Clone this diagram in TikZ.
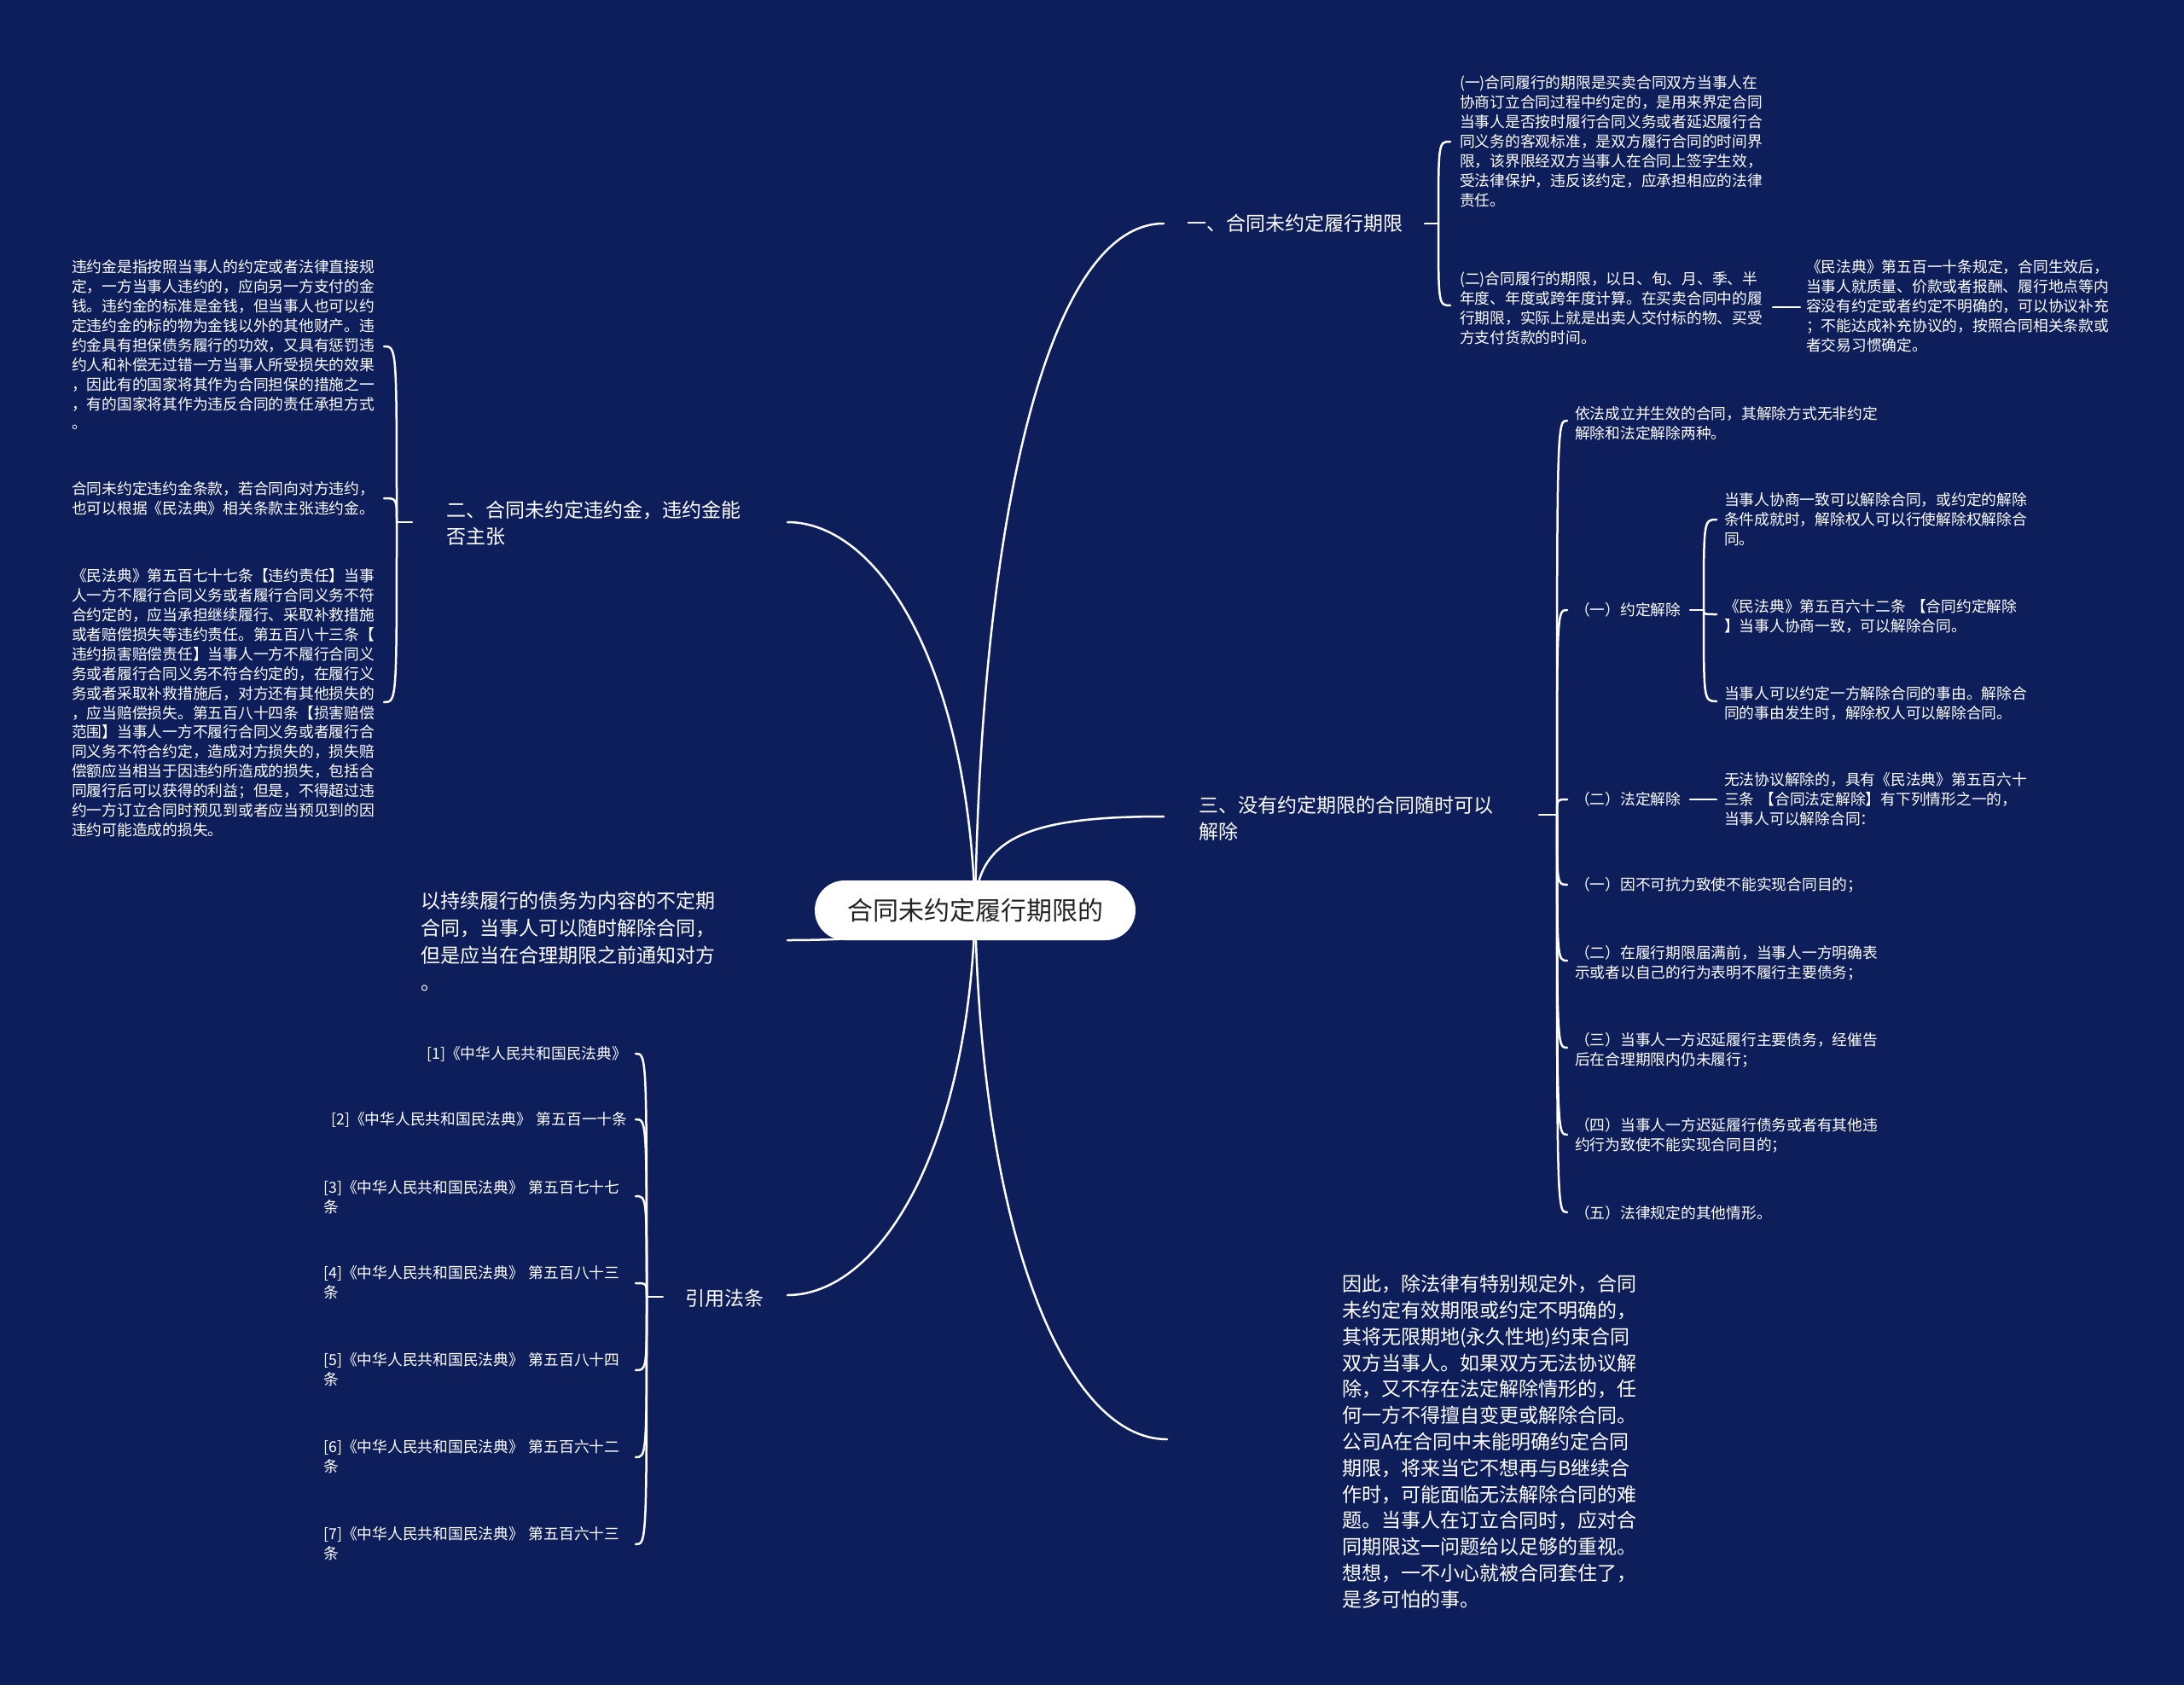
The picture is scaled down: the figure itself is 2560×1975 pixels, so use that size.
\documentclass[tikz,border=0pt]{standalone}
\usepackage{fontspec}
\setmainfont{Noto Sans CJK SC}
\definecolor{bg}{HTML}{0D1E5B}
\definecolor{rootText}{HTML}{222222}
\begin{document}
\begin{tikzpicture}[x=1pt,y=-1pt,
  conn/.style={draw=white,line width=2.5pt,line cap=round},
  small/.style={text=white,inner sep=0pt,anchor=base west,align=left,text width=400pt,font=\fontsize{17.75}{22.9}\selectfont},
  big/.style={text=white,inner sep=0pt,anchor=base west,align=left,text width=400pt,font=\fontsize{23}{31}\selectfont},
  rootbox/.style={fill=white,rounded corners=35pt,minimum width=376pt,minimum height=70pt,inner sep=0pt,text=rootText,font=\fontsize{30}{36}\selectfont}
]
\fill[bg] (0,0) rectangle (2560,1975);
\useasboundingbox (0,0) rectangle (2560,1975);

% ---------- coordinates ----------
\coordinate (c) at (1143,1067);
\coordinate (e1) at (1364,262);
\coordinate (e2) at (923,612);
\coordinate (e3) at (1364,957);
\coordinate (e4) at (1368,1687);
\coordinate (e5) at (923,1102);
\coordinate (e6) at (923,1518);

% ---------- main curves ----------
\draw[conn] (c) .. controls (1150,600) and (1230,262) .. (e1);
\draw[conn] (c) .. controls (1135,780) and (1030,612) .. (e2);
\draw[conn] (c) .. controls (1143,980) and (1210,957) .. (e3);
\draw[conn] (c) .. controls (1150,1450) and (1250,1687) .. (e4);
\draw[conn] (c) .. controls (1143,1095) and (1000,1102) .. (e5);
\draw[conn] (c) .. controls (1135,1350) and (1030,1518) .. (e6);

% ---------- root ----------
\node[rootbox] (root) at (c) {合同未约定履行期限的};

% ---------- branch 1 ----------
\node[big,text width=300pt] (b1) at (1391,270.7) {一、合同未约定履行期限};
\node[small] (a1) at (1711,103.7) {(一)合同履行的期限是买卖合同双方当事人在\\协商订立合同过程中约定的，是用来界定合同\\当事人是否按时履行合同义务或者延迟履行合\\同义务的客观标准，是双方履行合同的时间界\\限，该界限经双方当事人在合同上签字生效，\\受法律保护，违反该约定，应承担相应的法律\\责任。};
\node[small] (a2) at (1711,333.7) {(二)合同履行的期限，以日、旬、月、季、半\\年度、年度或跨年度计算。在买卖合同中的履\\行期限，实际上就是出卖人交付标的物、买受\\方支付货款的时间。};
\node[small] (a3) at (2117,319.7) {《民法典》第五百一十条规定，合同生效后，\\当事人就质量、价款或者报酬、履行地点等内\\容没有约定或者约定不明确的，可以协议补充\\；不能达成补充协议的，按照合同相关条款或\\者交易习惯确定。};
\draw[conn] (1670,262) -- (1686,262);
\draw[conn] (1686,262) .. controls (1686,166) .. (1700,166);
\draw[conn] (1686,262) .. controls (1686,358) .. (1700,358);
\draw[conn] (2078,360) -- (2110,360);

% ---------- branch 2 ----------
\node[big] (b2) at (523,606.7) {二、合同未约定违约金，违约金能\\否主张};
\node[small] (d1) at (84,319.7) {违约金是指按照当事人的约定或者法律直接规\\定，一方当事人违约的，应向另一方支付的金\\钱。违约金的标准是金钱，但当事人也可以约\\定违约金的标的物为金钱以外的其他财产。违\\约金具有担保债务履行的功效，又具有惩罚违\\约人和补偿无过错一方当事人所受损失的效果\\，因此有的国家将其作为合同担保的措施之一\\，有的国家将其作为违反合同的责任承担方式\\。};
\node[small] (d2) at (84,579.7) {合同未约定违约金条款，若合同向对方违约，\\也可以根据《民法典》相关条款主张违约金。};
\node[small] (d3) at (84,681.7) {《民法典》第五百七十七条【违约责任】当事\\人一方不履行合同义务或者履行合同义务不符\\合约定的，应当承担继续履行、采取补救措施\\或者赔偿损失等违约责任。第五百八十三条【\\违约损害赔偿责任】当事人一方不履行合同义\\务或者履行合同义务不符合约定的，在履行义\\务或者采取补救措施后，对方还有其他损失的\\，应当赔偿损失。第五百八十四条【损害赔偿\\范围】当事人一方不履行合同义务或者履行合\\同义务不符合约定，造成对方损失的，损失赔\\偿额应当相当于因违约所造成的损失，包括合\\同履行后可以获得的利益；但是，不得超过违\\约一方订立合同时预见到或者应当预见到的因\\违约可能造成的损失。};
\draw[conn] (483,612) -- (465,612);
\draw[conn] (465,612) .. controls (465,406) .. (450,406);
\draw[conn] (465,612) .. controls (465,584) .. (450,584);
\draw[conn] (465,612) .. controls (465,823) .. (450,823);

% ---------- branch 3 ----------
\node[big] (b3) at (1405,952.7) {三、没有约定期限的合同随时可以\\解除};
\node[small] (g1) at (1846,491.7) {依法成立并生效的合同，其解除方式无非约定\\解除和法定解除两种。};
\node[small,text width=200pt] (h0) at (1846,721.7) {（一）约定解除};
\node[small] (h1) at (2021,592.7) {当事人协商一致可以解除合同，或约定的解除\\条件成就时，解除权人可以行使解除权解除合\\同。};
\node[small] (h2) at (2021,717.7) {《民法典》第五百六十二条 【合同约定解除\\】当事人协商一致，可以解除合同。};
\node[small] (h3) at (2021,819.7) {当事人可以约定一方解除合同的事由。解除合\\同的事由发生时，解除权人可以解除合同。};
\node[small,text width=200pt] (i0) at (1846,943.7) {（二）法定解除};
\node[small] (i1) at (2021,920.7) {无法协议解除的，具有《民法典》第五百六十\\三条 【合同法定解除】有下列情形之一的，\\当事人可以解除合同：};
\node[small] (j1) at (1846,1043.7) {（一）因不可抗力致使不能实现合同目的；};
\node[small] (j2) at (1846,1123.7) {（二）在履行期限届满前，当事人一方明确表\\示或者以自己的行为表明不履行主要债务；};
\node[small] (j3) at (1846,1225.7) {（三）当事人一方迟延履行主要债务，经催告\\后在合理期限内仍未履行；};
\node[small] (j4) at (1846,1325.7) {（四）当事人一方迟延履行债务或者有其他违\\约行为致使不能实现合同目的；};
\node[small] (j5) at (1846,1428.7) {（五）法律规定的其他情形。};
\draw[conn] (1804,955) -- (1825,955);
\foreach \yy in {493,715,937,1037,1126,1228,1330,1421}
  \draw[conn] (1825,955) .. controls (1825,\yy) .. (1837,\yy);
\draw[conn] (1981,715) -- (1997,715);
\foreach \yy in {609,720,822}
  \draw[conn] (1997,715) .. controls (1997,\yy) .. (2012,\yy);
\draw[conn] (1981,937) -- (2012,937);

% ---------- branch 4 ----------
\node[big,font=\fontsize{23}{30.8}\selectfont] (k1) at (1573,1513.7) {因此，除法律有特别规定外，合同\\未约定有效期限或约定不明确的，\\其将无限期地(永久性地)约束合同\\双方当事人。如果双方无法协议解\\除，又不存在法定解除情形的，任\\何一方不得擅自变更或解除合同。\\公司A在合同中未能明确约定合同\\期限，将来当它不想再与B继续合\\作时，可能面临无法解除合同的难\\题。当事人在订立合同时，应对合\\同期限这一问题给以足够的重视。\\想想，一不小心就被合同套住了，\\是多可怕的事。};

% ---------- branch 5 ----------
\node[big,font=\fontsize{23}{32}\selectfont] (b5) at (493,1064.7) {以持续履行的债务为内容的不定期\\合同，当事人可以随时解除合同，\\但是应当在合理期限之前通知对方\\。};

% ---------- branch 6 ----------
\node[big,text width=200pt] (b6) at (803,1530.7) {引用法条};
\node[small,font=\fontsize{17.75}{22.5}\selectfont] (r1) at (500,1241.7) {[1]《中华人民共和国民法典》};
\node[small,font=\fontsize{17.75}{22.5}\selectfont] (r2) at (388,1318.7) {[2]《中华人民共和国民法典》 第五百一十条};
\node[small,font=\fontsize{17.75}{22.5}\selectfont] (r3) at (379,1398.7) {[3]《中华人民共和国民法典》 第五百七十七\\条};
\node[small,font=\fontsize{17.75}{22.5}\selectfont] (r4) at (379,1498.7) {[4]《中华人民共和国民法典》 第五百八十三\\条};
\node[small,font=\fontsize{17.75}{22.5}\selectfont] (r5) at (379,1600.7) {[5]《中华人民共和国民法典》 第五百八十四\\条};
\node[small,font=\fontsize{17.75}{22.5}\selectfont] (r6) at (379,1702.7) {[6]《中华人民共和国民法典》 第五百六十二\\条};
\node[small,font=\fontsize{17.75}{22.5}\selectfont] (r7) at (379,1804.7) {[7]《中华人民共和国民法典》 第五百六十三\\条};
\draw[conn] (777,1520) -- (758,1520);
\foreach \yy in {1235,1312,1402,1504,1606,1708,1810}
  \draw[conn] (758,1520) .. controls (758,\yy) .. (745,\yy);
\end{tikzpicture}
\end{document}
